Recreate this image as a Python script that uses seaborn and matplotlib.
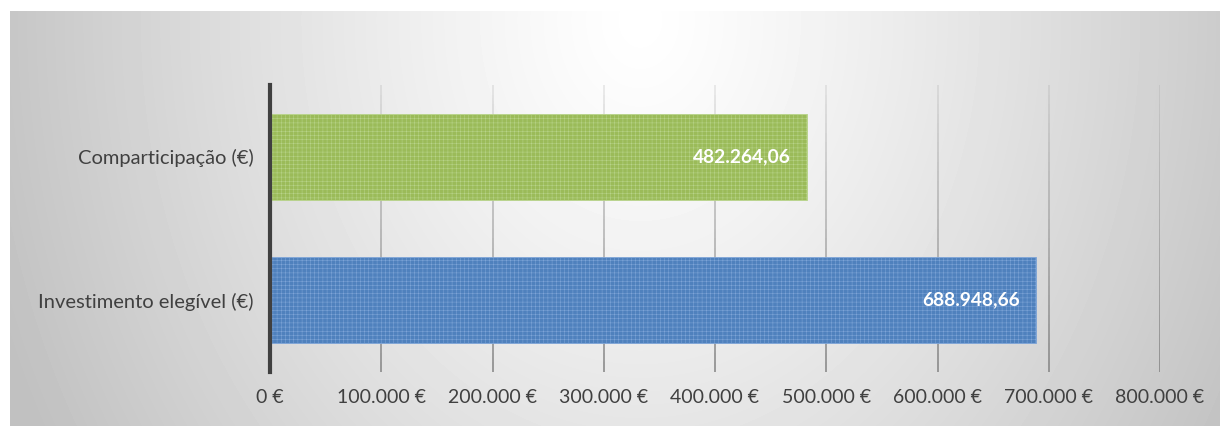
import numpy as np
import pandas as pd
import matplotlib
matplotlib.use("Agg")
import matplotlib.pyplot as plt
import seaborn as sns

# chart data
categories = ["Comparticipação (€)", "Investimento elegível (€)"]
values = [482264.06, 688948.66]
value_labels = ["482.264,06", "688.948,66"]
bar_colors = ["#9bbb59", "#4f81bd"]
hatch_colors = ["#b9d48c", "#80a6d8"]
x_ticks = [0, 100000, 200000, 300000, 400000, 500000, 600000, 700000, 800000]
x_tick_labels = ["0 €", "100.000 €", "200.000 €", "300.000 €", "400.000 €",
                 "500.000 €", "600.000 €", "700.000 €", "800.000 €"]

sns.set_style("white")
plt.rcParams["font.family"] = ["Lato", "DejaVu Sans"]
plt.rcParams["hatch.linewidth"] = 0.35

W, H = 1220, 426
fig = plt.figure(figsize=(W / 100, H / 100), dpi=100)
fig.patch.set_facecolor("white")

# radial grey background panel
bg = fig.add_axes([10 / W, 0, 1 - 10 / W, 1 - 11 / H], zorder=-5)
yy, xx = np.mgrid[11:H, 10:W]
d = np.sqrt(((xx - 640) / 680.0) ** 2 + ((yy - 20) / 850.0) ** 2)
d = np.clip(d, 0, 1)
shade = (255 - 62 * d ** 1.2) / 255.0
bg.imshow(shade, cmap="gray", vmin=0, vmax=1, aspect="auto",
          extent=[0, 1, 0, 1], interpolation="bilinear")
bg.axis("off")

ax = fig.add_axes([270 / W, (H - 372) / H, (1160 - 270) / W, (372 - 85) / H])
ax.set_facecolor("none")

df = pd.DataFrame({"cat": categories, "val": values})
sns.barplot(data=df, x="val", y="cat", hue="cat", palette=bar_colors,
            saturation=1, orient="h", width=0.6, legend=False, ax=ax, zorder=3)

for patch, hc in zip(ax.patches, hatch_colors):
    patch.set_hatch("++++")
    patch.set_edgecolor(hc)
    patch.set_linewidth(0.6)

for i, (v, lab) in enumerate(zip(values, value_labels)):
    ax.text(v - 14500, i, lab, ha="right", va="center", color="white",
            fontsize=13.8, fontweight="bold", zorder=5)

ax.set_xlim(0, 800000)
ax.set_ylim(1.5, -0.5)
ax.set_xticks(x_ticks)
ax.set_xticklabels(x_tick_labels)
ax.tick_params(axis="x", length=0, pad=12, labelsize=14, labelcolor="#404040")
ax.tick_params(axis="y", length=0, pad=12, labelsize=14.5, labelcolor="#404040")
ax.set_xlabel("")
ax.set_ylabel("")

# vertical gridlines fading from light at the top to darker at the bottom
n_seg = 30
edges = np.linspace(-0.5, 1.5, n_seg + 1)
for k in range(n_seg):
    a = 0.15 + 0.6 * (k / (n_seg - 1))
    ax.vlines(x_ticks[1:], edges[k], edges[k + 1], color="#7f7f7f",
              alpha=a, linewidth=1.4, zorder=1)
for s in ["top", "right", "bottom"]:
    ax.spines[s].set_visible(False)
ax.spines["left"].set_color("#404040")
ax.spines["left"].set_linewidth(3)
ax.spines["left"].set_zorder(6)

fig.savefig("out.png", dpi=100)
